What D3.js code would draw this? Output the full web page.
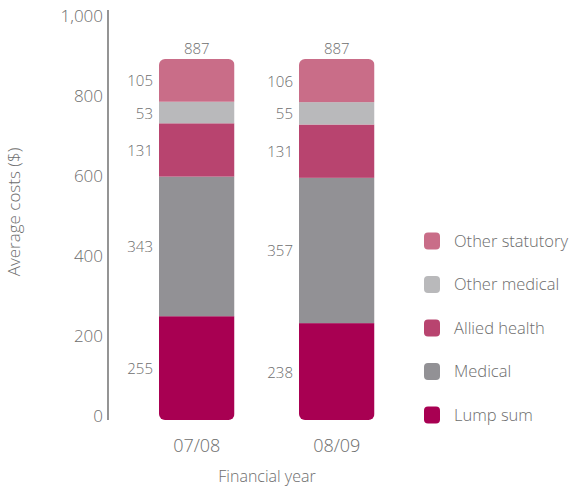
<!DOCTYPE html>
<html>
<head>
<meta charset="utf-8">
<script src="https://cdn.jsdelivr.net/npm/d3@7"></script>
<style>
  html, body { margin: 0; padding: 0; background: #fff; }
  svg { display: block; font-family: "Open Sans", "Noto Sans", sans-serif; }
</style>
</head>
<body>
<svg id="chart" width="571" height="489"></svg>
<script>
// Average costs by financial year, stacked from the bottom up
const years = ["07/08", "08/09"];
const seriesNames = ["Lump sum", "Medical", "Allied health", "Other medical", "Other statutory"];
const lumpSum = [255, 238];
const medical = [343, 357];
const alliedHealth = [131, 131];
const otherMedical = [53, 55];
const otherStatutory = [105, 106];
const totals = [887, 887];
const yTicks = [0, 200, 400, 600, 800, 1000];
const colours = ["#a80052", "#929195", "#b8446f", "#b9b9bb", "#c96d88"];

const valuesBySeries = [lumpSum, medical, alliedHealth, otherMedical, otherStatutory];
const rows = years.map((yr, i) => {
  const r = { year: yr };
  seriesNames.forEach((s, k) => { r[s] = valuesBySeries[k][i]; });
  return r;
});

const svg = d3.select("#chart");
const textGrey = "#6d6d6d";

const y = d3.scaleLinear().domain([0, 1000]).range([420, 13]);
const x = d3.scaleBand().domain(years).range([89, 444.5])
  .paddingInner(0.4607).paddingOuter(0.5);

// y axis: a plain vertical rule with labels, no tick marks
const axisX = 108;
svg.append("line")
  .attr("x1", axisX).attr("x2", axisX)
  .attr("y1", y(1000) - 3).attr("y2", y(0))
  .attr("stroke", "#7a7a7a").attr("stroke-width", 1.6);

svg.append("g").selectAll("text").data(yTicks).join("text")
  .attr("x", axisX - 5)
  .attr("y", d => y(d) - 5 + d * 0.007)
  .attr("text-anchor", "end")
  .attr("dominant-baseline", "central")
  .attr("font-size", 17)
  .attr("font-weight", 300)
  .attr("fill", textGrey)
  .text(d => d3.format(",")(d));

svg.append("text")
  .attr("transform", `translate(13,${212}) rotate(-90)`)
  .attr("text-anchor", "middle")
  .attr("dominant-baseline", "central")
  .attr("font-size", 17)
  .attr("font-weight", 300)
  .attr("fill", textGrey)
  .text("Average costs ($)");

// stacked bars, clipped so the whole stack has rounded ends
const stack = d3.stack().keys(seriesNames)(rows);
const defs = svg.append("defs");
years.forEach((yr, i) => {
  defs.append("clipPath").attr("id", "clip" + i)
    .append("rect")
    .attr("x", x(yr)).attr("width", x.bandwidth())
    .attr("y", y(totals[i])).attr("height", y(0) - y(totals[i]))
    .attr("rx", 6).attr("ry", 6);
});

years.forEach((yr, i) => {
  const g = svg.append("g").attr("clip-path", `url(#clip${i})`);
  stack.forEach((layer, k) => {
    const d = layer[i];
    g.append("rect")
      .attr("x", x(yr)).attr("width", x.bandwidth())
      .attr("y", y(d[1])).attr("height", y(d[0]) - y(d[1]))
      .attr("fill", colours[k]);
  });
});

// segment value labels to the left of each bar
years.forEach((yr, i) => {
  stack.forEach((layer) => {
    const d = layer[i];
    svg.append("text")
      .attr("x", x(yr) - 6)
      .attr("y", y((d[0] + d[1]) / 2))
      .attr("text-anchor", "end")
      .attr("dominant-baseline", "central")
      .attr("font-size", 15)
      .attr("font-weight", 300)
      .attr("fill", textGrey)
      .text(d[1] - d[0]);
  });
  svg.append("text")
    .attr("x", x(yr) + x.bandwidth() / 2)
    .attr("y", y(totals[i]) - 11)
    .attr("text-anchor", "middle")
    .attr("dominant-baseline", "central")
    .attr("font-size", 15)
    .attr("font-weight", 300)
    .attr("fill", textGrey)
    .text(totals[i]);
});

// category labels and x title
svg.append("g").selectAll("text").data(years).join("text")
  .attr("x", d => x(d) + x.bandwidth() / 2)
  .attr("y", 445)
  .attr("text-anchor", "middle")
  .attr("dominant-baseline", "central")
  .attr("font-size", 18)
  .attr("font-weight", 300)
  .attr("fill", textGrey)
  .text(d => d);

svg.append("text")
  .attr("x", 267).attr("y", 476)
  .attr("text-anchor", "middle")
  .attr("dominant-baseline", "central")
  .attr("font-size", 16)
  .attr("font-weight", 300)
  .attr("fill", textGrey)
  .text("Financial year");

// legend, top entry is the top of the stack
const legendOrder = seriesNames.map((s, k) => ({ name: s, colour: colours[k] })).reverse();
const legend = svg.append("g").selectAll("g").data(legendOrder).join("g")
  .attr("transform", (d, i) => `translate(424,${241 + i * 43.5})`);
legend.append("rect")
  .attr("x", 0).attr("y", -8.5).attr("width", 16).attr("height", 17)
  .attr("rx", 4).attr("ry", 4)
  .attr("fill", d => d.colour);
legend.append("text")
  .attr("x", 30).attr("y", -1)
  .attr("dominant-baseline", "central")
  .attr("font-size", 16.5)
  .attr("font-weight", 300)
  .attr("fill", textGrey)
  .text(d => d.name);
</script>
</body>
</html>
